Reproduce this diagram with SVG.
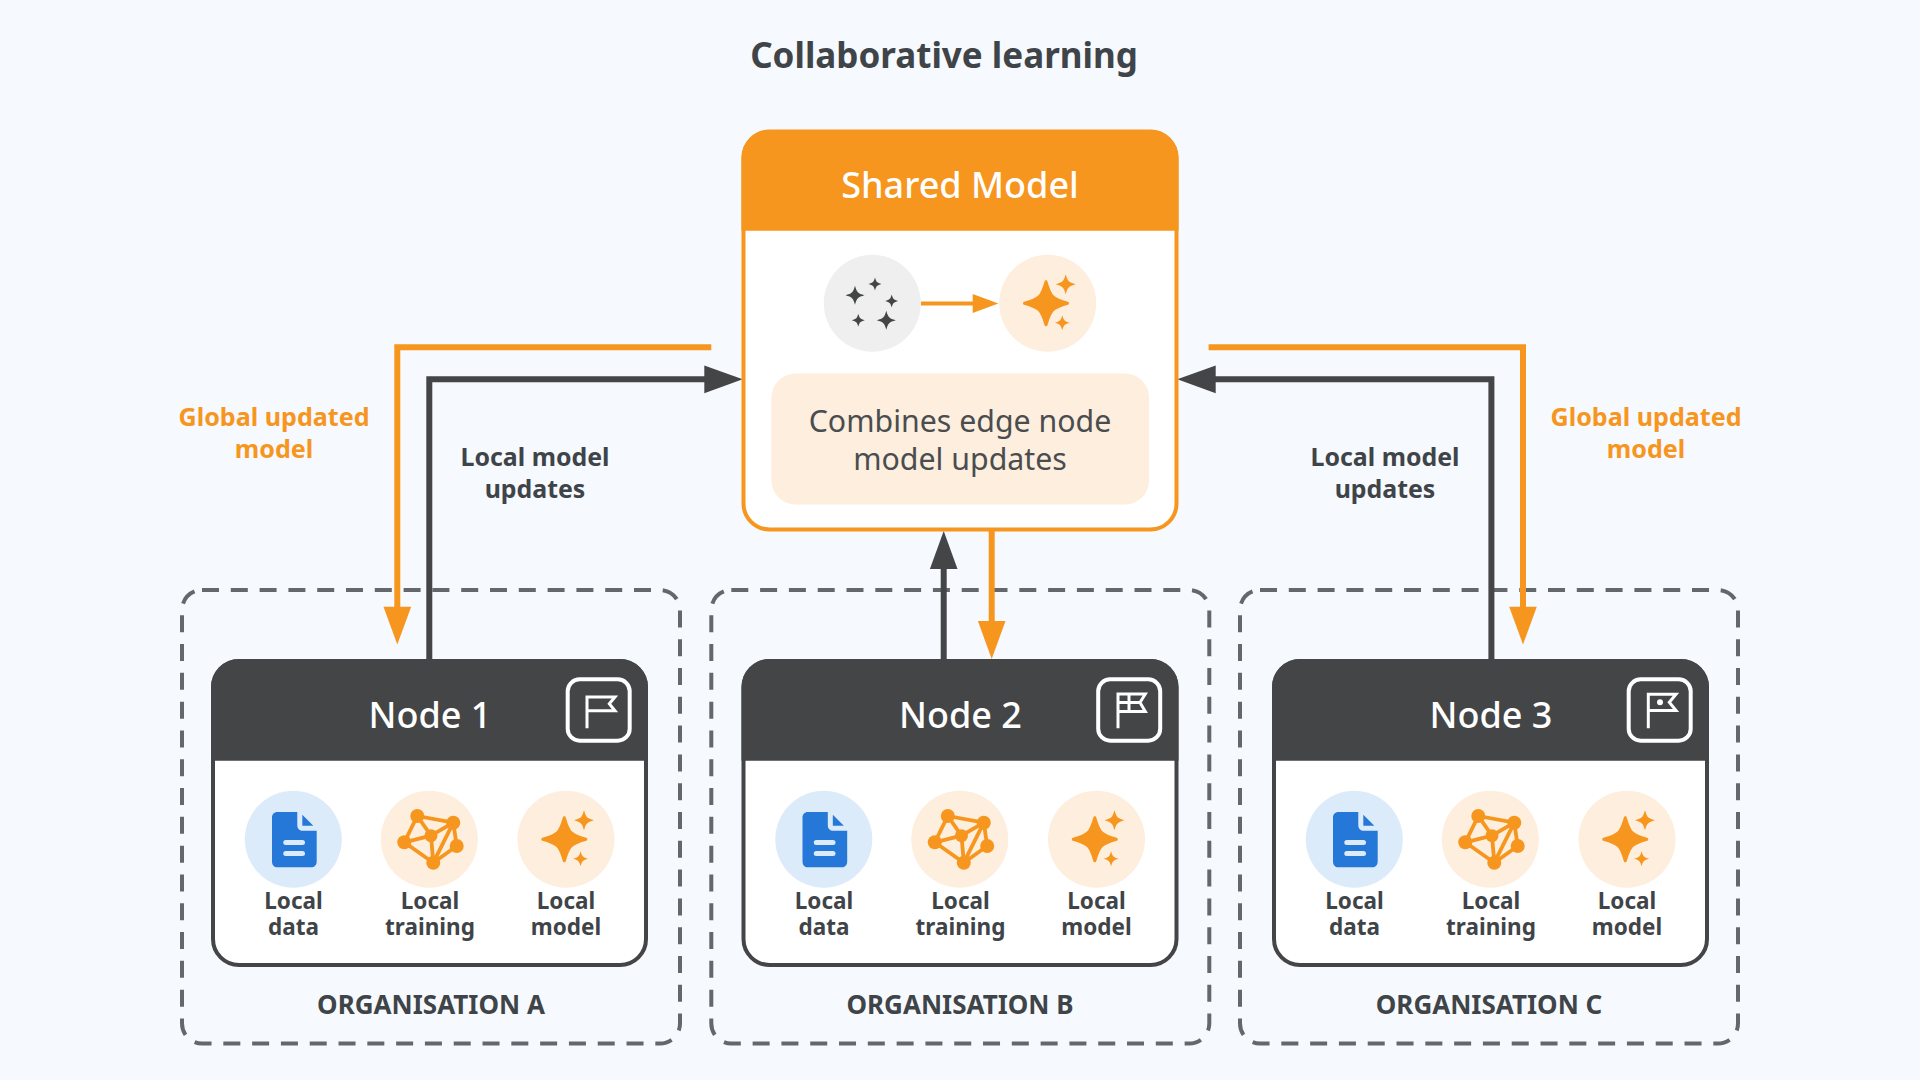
<svg xmlns="http://www.w3.org/2000/svg" width="1920" height="1080" viewBox="0 0 1920 1080">
<style>
text{font-family:"Noto Sans","Open Sans","Liberation Sans",sans-serif;text-anchor:middle}
.title{font-size:35px;font-weight:700;fill:#3f4448}
.head{font-size:36px;font-weight:500;fill:#fff}
.lab{font-size:22.500px;font-weight:700;fill:#3f4448}
.org{font-size:26px;font-weight:700;fill:#3f4448}
.side{font-size:24.900px;font-weight:700;fill:#3f4448}
.sideo{font-size:25.100px;font-weight:700;fill:#f6961e}
.desc{font-size:30.300px;font-weight:400;fill:#4a4d50}
.dash{fill:none;stroke:#64686d;stroke-width:4;stroke-dasharray:17 11.800}
.conn-o{fill:none;stroke:#f6961e;stroke-width:6}
.conn-d{fill:none;stroke:#444547;stroke-width:6}
.fo{fill:#f6961e}.fd{fill:#444547}
.flag{fill:none;stroke:#fff;stroke-width:3}
.flagbox{fill:none;stroke:#fff;stroke-width:4}
</style>
<defs>
<path id="star" d="M0-1C.2-.3.3-.2 1 0C.3.2.2.3 0 1C-.2.3-.3.2-1 0C-.3-.2-.2-.3 0-1Z"/>
<g id="sparkle">
<circle r="48.500" fill="#fdeedd"/>
<g class="fo">
<use href="#star" transform="translate(-1.700 0) scale(21.500)" stroke="#f6961e" stroke-width=".14" stroke-linejoin="round"/>
<use href="#star" transform="translate(18 -19) scale(10)"/>
<use href="#star" transform="translate(14.600 19.400) scale(7.500)"/>
</g>
</g>
<g id="doc">
<circle r="48.500" fill="#dcebfa"/>
<path fill="#2678d8" d="M-16-27.300H4V-14C4-10 7-8.500 9-8.500H23.400V22C23.400 26 21 28 18 28H-16C-19 28-21.300 26-21.300 22V-22C-21.300-25-19-27.300-16-27.300Z"/>
<path fill="#2678d8" d="M9-24.600 20-13.600H9Z"/>
<rect x="-10" y=".700" width="21.700" height="5" rx="2.500" fill="#dcebfa"/>
<rect x="-10" y="11.700" width="21.700" height="5" rx="2.500" fill="#dcebfa"/>
</g>
<g id="net">
<circle r="48.500" fill="#fdeedd"/>
<path fill="none" stroke="#f6961e" stroke-width="3.800" d="M-12-23.300 24-16.600M-12-23.300 1.700-3.600M-12-23.300-25 3M24-16.600 1.700-3.600M24-16.600 27.400 6.700M24-16.600 4 23.400M1.700-3.600-25 3M1.700-3.600 4 23.400M-25 3 4 23.400M27.400 6.700 4 23.400"/>
<g class="fo">
<circle cx="-12" cy="-23.300" r="7"/><circle cx="24" cy="-16.600" r="7"/><circle cx="1.700" cy="-3.600" r="6.500"/><circle cx="-25" cy="3" r="7"/><circle cx="27.400" cy="6.700" r="7"/><circle cx="4" cy="23.400" r="7"/>
</g>
</g>
<g id="card">
<rect x="213" y="661" width="433" height="304" rx="26" fill="#fff" stroke="#444547" stroke-width="4"/>
<path class="fd" d="M211 760.700V687a28 28 0 0 1 28-28H620a28 28 0 0 1 28 28V760.700Z"/>
<rect x="567.700" y="679.300" width="62" height="61.400" rx="12" class="flagbox"/>
</g>
</defs>
<rect width="1920" height="1080" fill="#f6f9fe"/>
<text class="title" x="944" y="68">Collaborative learning</text>

<g id="org-a"><rect class="dash" x="182" y="590" width="498" height="453.500" rx="20"/><text class="org" x="431" y="1014">ORGANISATION A</text></g>
<g id="org-b"><rect class="dash" x="711.300" y="590" width="498" height="453.500" rx="20"/><text class="org" x="960" y="1014">ORGANISATION B</text></g>
<g id="org-c"><rect class="dash" x="1240" y="590" width="498" height="453.500" rx="20"/><text class="org" x="1489" y="1014">ORGANISATION C</text></g>

<g id="connectors">
<path class="conn-o" d="M711.300 347.300H397.300V610"/><path class="fo" d="M383.500 606.700H411.200L397.300 644.500Z"/>
<path class="conn-d" d="M429.300 660V379.300H708"/><path class="fd" d="M704.300 365.500V393.200L742.700 379.300Z"/>
<path class="conn-d" d="M943.700 660V565"/><path class="fd" d="M929.900 569H957.500L943.700 531Z"/>
<path class="conn-o" d="M991.700 530V625"/><path class="fo" d="M977.900 621H1005.500L991.700 659Z"/>
<path class="conn-o" d="M1208.600 347.300H1523V610"/><path class="fo" d="M1509.200 606.700H1536.800L1523 644.500Z"/>
<path class="conn-d" d="M1491.400 660V379.300H1212"/><path class="fd" d="M1215.700 365.500V393.200L1177.300 379.300Z"/>
<text class="sideo" x="274" y="426">Global updated</text><text class="sideo" x="274" y="458">model</text>
<text class="sideo" x="1646" y="426">Global updated</text><text class="sideo" x="1646" y="458">model</text>
<text class="side" x="535" y="466">Local model</text><text class="side" x="535" y="498">updates</text>
<text class="side" x="1385" y="466">Local model</text><text class="side" x="1385" y="498">updates</text>
</g>

<g id="shared-model">
<rect x="743.500" y="131.500" width="433" height="398" rx="26" fill="#fff" stroke="#f6961e" stroke-width="4"/>
<path class="fo" d="M741.500 230.700V158a28 28 0 0 1 28-28H1150.500a28 28 0 0 1 28 28V230.700Z"/>
<text class="head" x="960" y="198">Shared Model</text>
<circle cx="872.300" cy="303.300" r="48.500" fill="#efefef"/>
<g class="fd">
<use href="#star" transform="translate(855 295.300) scale(9.500)"/>
<use href="#star" transform="translate(875 284) scale(6.500)"/>
<use href="#star" transform="translate(891.700 301) scale(6.500)"/>
<use href="#star" transform="translate(858.300 320.300) scale(6.500)"/>
<use href="#star" transform="translate(886.300 320.300) scale(9.500)"/>
</g>
<use href="#sparkle" x="1047.700" y="303.300"/>
<path d="M921 303.500H976" stroke="#f6961e" stroke-width="4" fill="none"/><path class="fo" d="M972.700 294V313L998.300 303.500Z"/>
<rect x="771.500" y="373.500" width="377.500" height="131" rx="24" fill="#fdeedd"/>
<text class="desc" x="960" y="432">Combines edge node</text><text class="desc" x="960" y="470">model updates</text>
</g>

<g id="node-1">
<use href="#card"/>
<text class="head" x="430" y="728">Node 1</text>
<path class="flag" d="M587 728.300V697H615L609.300 703.800 615 710.700H587"/>
<use href="#doc" x="293.300" y="839.300"/><use href="#net" x="429.300" y="839.300"/><use href="#sparkle" x="566" y="839.300"/>
<text class="lab" x="293.500" y="909">Local</text><text class="lab" x="293.500" y="935">data</text>
<text class="lab" x="430" y="909">Local</text><text class="lab" x="430" y="935">training</text>
<text class="lab" x="566" y="909">Local</text><text class="lab" x="566" y="935">model</text>
</g>
<g id="node-2" transform="translate(530.500 0)">
<use href="#card"/>
<text class="head" x="430" y="728">Node 2</text>
<path class="flag" d="M587.500 728.300V694H614.800L609.500 702.500 614.800 711.500H587.500M587.500 702.500H609.500M598.500 694V711.500"/>
<use href="#doc" x="293.300" y="839.300"/><use href="#net" x="429.300" y="839.300"/><use href="#sparkle" x="566" y="839.300"/>
<text class="lab" x="293.500" y="909">Local</text><text class="lab" x="293.500" y="935">data</text>
<text class="lab" x="430" y="909">Local</text><text class="lab" x="430" y="935">training</text>
<text class="lab" x="566" y="909">Local</text><text class="lab" x="566" y="935">model</text>
</g>
<g id="node-3" transform="translate(1061 0)">
<use href="#card"/>
<text class="head" x="430" y="728">Node 3</text>
<path class="flag" d="M587.300 728.300V694.300H615L608.300 702.300 615 710.500H587.300"/><circle cx="599" cy="702.300" r="3" fill="#fff"/>
<use href="#doc" x="293.300" y="839.300"/><use href="#net" x="429.300" y="839.300"/><use href="#sparkle" x="566" y="839.300"/>
<text class="lab" x="293.500" y="909">Local</text><text class="lab" x="293.500" y="935">data</text>
<text class="lab" x="430" y="909">Local</text><text class="lab" x="430" y="935">training</text>
<text class="lab" x="566" y="909">Local</text><text class="lab" x="566" y="935">model</text>
</g>
</svg>
